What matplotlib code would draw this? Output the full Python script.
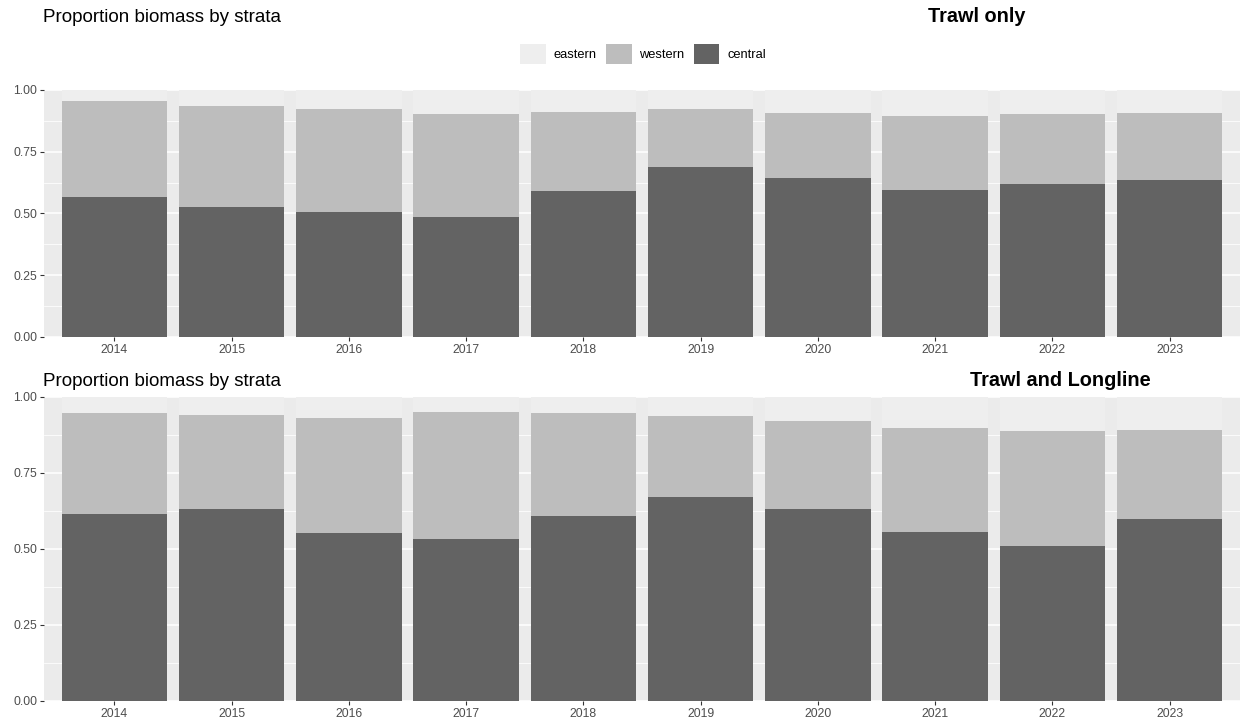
import matplotlib
matplotlib.use("Agg")
import matplotlib.pyplot as plt
from matplotlib.patches import Patch
import numpy as np

plt.rcParams['font.family'] = ['Liberation Sans', 'DejaVu Sans']

years = ["2014", "2015", "2016", "2017", "2018", "2019", "2020", "2021", "2022", "2023"]
strata = ["eastern", "western", "central"]

# Trawl only (proportions)
trawl_central = [0.566, 0.527, 0.507, 0.484, 0.591, 0.689, 0.645, 0.595, 0.618, 0.636]
trawl_western = [0.389, 0.409, 0.416, 0.417, 0.321, 0.234, 0.263, 0.300, 0.283, 0.272]
trawl_eastern = [0.045, 0.064, 0.077, 0.099, 0.088, 0.077, 0.092, 0.105, 0.099, 0.092]

# Trawl and Longline (proportions)
tl_central = [0.614, 0.630, 0.551, 0.533, 0.607, 0.671, 0.631, 0.556, 0.508, 0.598]
tl_western = [0.332, 0.309, 0.379, 0.417, 0.339, 0.266, 0.290, 0.342, 0.379, 0.292]
tl_eastern = [0.054, 0.061, 0.070, 0.050, 0.054, 0.063, 0.079, 0.102, 0.113, 0.110]

colors = {"eastern": "#EEEEEE", "western": "#BDBDBD", "central": "#636363"}
yticks = [0.0, 0.25, 0.5, 0.75, 1.0]
ytick_labels = ["0.00", "0.25", "0.50", "0.75", "1.00"]

W, H = 1241, 723
fig = plt.figure(figsize=(W / 100, H / 100), dpi=100)


def panel(rect, central, western, eastern):
    ax = fig.add_axes(rect)
    ax.set_facecolor("#EBEBEB")
    x = np.arange(len(years))
    for yv in [0.125, 0.375, 0.625, 0.875]:
        ax.axhline(yv, color="white", lw=0.55, zorder=0.5)
    for yv in yticks:
        ax.axhline(yv, color="white", lw=1.1, zorder=0.6)
    c = np.array(central)
    w = np.array(western)
    e = np.array(eastern)
    ax.bar(x, c, width=0.9, color=colors["central"], zorder=2)
    ax.bar(x, w, bottom=c, width=0.9, color=colors["western"], zorder=2)
    ax.bar(x, e, bottom=c + w, width=0.9, color=colors["eastern"], zorder=2)
    ax.set_xlim(-0.6, len(years) - 0.4)
    ax.set_ylim(0, 1.0)
    ax.set_xticks(x)
    ax.set_xticklabels(years)
    ax.set_yticks(yticks)
    ax.set_yticklabels(ytick_labels)
    ax.tick_params(axis="both", colors="#333333", length=3, width=0.8,
                   labelsize=8.8, labelcolor="#4D4D4D", pad=2)
    for s in ax.spines.values():
        s.set_visible(False)
    return ax


panel([44 / W, 1 - 336.7 / H, 1196 / W, 246.7 / H], trawl_central, trawl_western, trawl_eastern)
panel([44 / W, 1 - 700.7 / H, 1196 / W, 304 / H], tl_central, tl_western, tl_eastern)

fig.text(43 / W, 1 - 18 / H, "Proportion biomass by strata", fontsize=13.5, va="center", ha="left")
fig.text(928 / W, 1 - 17 / H, "Trawl only", fontsize=14.3, fontweight="bold", va="center", ha="left")
fig.text(43 / W, 1 - 381 / H, "Proportion biomass by strata", fontsize=13.5, va="center", ha="left")
fig.text(970 / W, 1 - 381 / H, "Trawl and Longline", fontsize=14.3, fontweight="bold", va="center", ha="left")

handles = [Patch(facecolor=colors[s], edgecolor="none", label=s) for s in strata]
fig.legend(handles=handles, loc="center", bbox_to_anchor=(643 / W, 1 - 54 / H), ncol=3,
           frameon=False, fontsize=9.3, handlelength=2.0, handleheight=2.0,
           handletextpad=0.6, columnspacing=0.7, borderpad=0)

fig.savefig("out.png", dpi=100)
